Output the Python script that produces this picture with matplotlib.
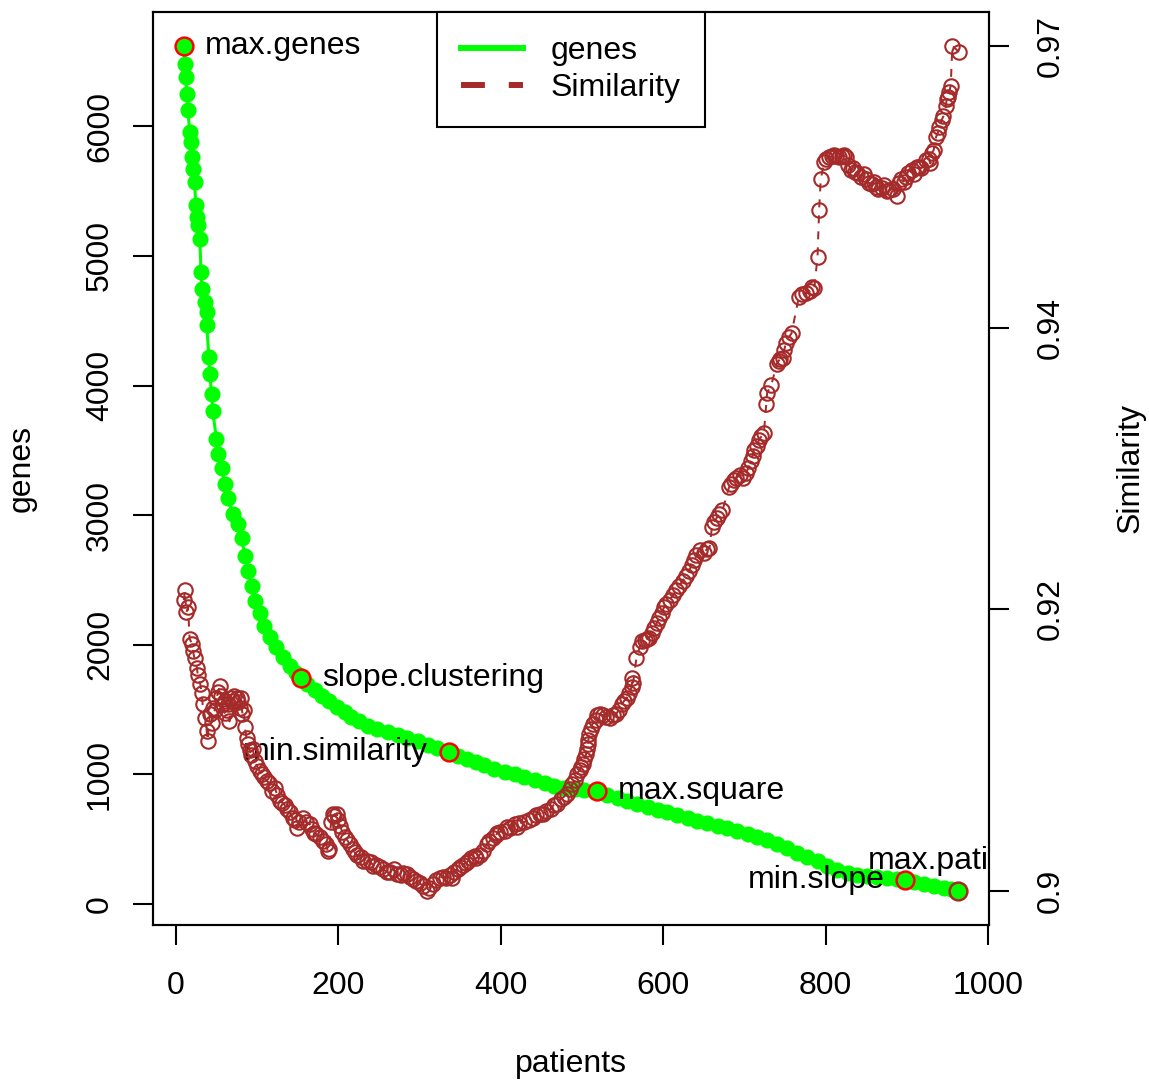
import numpy as np
import matplotlib
matplotlib.use("Agg")
import matplotlib.pyplot as plt
from matplotlib.lines import Line2D

plt.rcParams['font.family'] = ['Liberation Sans', 'DejaVu Sans']
plt.rcParams['font.size'] = 23

# genes kept vs number of patients
gene_patients = [10, 11, 12, 13.5, 15, 17, 18.5, 19.7, 21, 23,
                 24.6, 26, 27, 29.5, 31, 32, 35.7, 38, 38, 40.6,
                 42, 44, 45.5, 50, 51.7, 56.6, 60, 64, 70, 76, 81,
                 85, 89, 93.5, 98, 103, 109, 116, 123, 132, 140,
                 148, 154, 162, 171, 180, 189, 199, 208, 216, 226,
                 236, 248, 261, 273, 285, 298, 310, 322, 336, 347,
                 358, 369, 380, 392, 405, 417, 429, 442, 454, 466,
                 478, 491, 503, 519, 531, 544, 556, 568, 581, 593,
                 605, 617, 630, 642, 654, 667, 679, 691, 704, 716,
                 728, 740, 753, 765, 777, 790, 802, 814, 827, 839,
                 851, 863, 876, 888, 898, 909, 921, 934, 946, 954,
                 963]
gene_counts = [6620, 6477, 6377, 6246, 6123, 5954, 5877, 5762, 5669, 5569,
               5392, 5300, 5238, 5131, 4877, 4746, 4646, 4569, 4469, 4223,
               4085, 3931, 3800, 3585, 3469, 3362, 3238, 3131, 3008, 2931, 2823,
               2685, 2569, 2454, 2338, 2246, 2146, 2062, 1985, 1908, 1838,
               1785, 1746, 1700, 1654, 1608, 1569, 1523, 1485, 1446, 1415,
               1377, 1354, 1331, 1308, 1285, 1262, 1231, 1208, 1177, 1146,
               1123, 1100, 1077, 1046, 1023, 1000, 977, 954, 931, 908,
               892, 885, 877, 869, 838, 815, 792, 769, 746, 723,
               708, 685, 662, 638, 623, 600, 585, 562, 538, 515,
               492, 462, 431, 392, 362, 331, 292, 262, 238, 223,
               215, 208, 200, 192, 185, 169, 154, 138, 123, 115,
               100]

# similarity vs number of patients
sim_patients = [10, 11, 13, 15, 17, 20, 21, 23, 26, 27,
                30, 32, 33, 36, 38, 39, 42, 44, 46, 48,
                50, 52, 54, 56, 58, 60, 61, 63, 64, 66,
                68, 70, 72, 75, 77, 79, 80, 82, 84, 85,
                87, 89, 91, 93, 95, 97, 100, 103, 106, 109,
                112, 115, 119, 122, 125, 128, 131, 134, 137, 140,
                144, 147, 149, 152, 156, 160, 165, 168, 170, 173,
                177, 181, 185, 187, 189, 191, 193, 195, 198, 200,
                202, 205, 208, 211, 214, 218, 220, 223, 228, 231,
                235, 240, 243, 247, 251, 255, 260, 264, 268, 272,
                277, 280, 284, 288, 292, 296, 300, 304, 309, 312,
                316, 320, 325, 329, 333, 337, 340, 343, 347, 350,
                353, 357, 360, 364, 368, 370, 374, 378, 383, 386,
                390, 394, 396, 399, 405, 408, 411, 417, 420, 423,
                429, 435, 440, 444, 448, 452, 456, 462, 465, 469,
                474, 478, 481, 485, 488, 491, 494, 497, 499, 501,
                503, 505, 506, 507, 508, 509, 511, 513, 517, 519,
                522, 526, 530, 534, 538, 542, 545, 549, 552, 555,
                558, 561, 562, 563, 567, 571, 574, 577, 580, 583,
                586, 589, 592, 595, 598, 601, 604, 608, 612, 616,
                620, 624, 628, 632, 635, 638, 641, 645, 650, 654,
                657, 660, 663, 666, 669, 673, 681, 684, 687, 690,
                695, 698, 702, 705, 708, 710, 712, 715, 718, 721,
                724, 727, 728, 733, 740, 742, 744, 747, 749, 751,
                755, 758, 767, 771, 776, 781, 783, 786, 790, 792,
                794, 798, 801, 804, 808, 810, 813, 816, 820, 822,
                825, 828, 831, 834, 836, 839, 843, 847, 850, 853,
                857, 860, 862, 865, 869, 872, 875, 878, 883, 888,
                890, 893, 896, 899, 902, 906, 909, 912, 915, 918,
                923, 927, 929, 931, 933, 936, 938, 940, 943, 945,
                948, 949, 951, 952, 954, 956, 964]
similarity = [0.9241, 0.9249, 0.9231, 0.9235, 0.9209, 0.9205, 0.9199, 0.9193, 0.9185, 0.9179,
              0.9172, 0.9164, 0.9155, 0.9144, 0.9133, 0.9125, 0.9147, 0.9140, 0.9152, 0.9150,
              0.9160, 0.9165, 0.9170, 0.9162, 0.9155, 0.9148, 0.9158, 0.9150, 0.9155, 0.9141,
              0.9160, 0.9158, 0.9162, 0.9160, 0.9157, 0.9152, 0.9160, 0.9147, 0.9150, 0.9136,
              0.9127, 0.9122, 0.9117, 0.9113, 0.9118, 0.9108, 0.9104, 0.9100, 0.9098, 0.9095,
              0.9092, 0.9090, 0.9084, 0.9086, 0.9080, 0.9075, 0.9074, 0.9072, 0.9069, 0.9066,
              0.9061, 0.9060, 0.9053, 0.9058, 0.9061, 0.9058, 0.9056, 0.9052, 0.9049, 0.9048,
              0.9046, 0.9042, 0.9040, 0.9034, 0.9036, 0.9058, 0.9065, 0.9063, 0.9065, 0.9060,
              0.9055, 0.9050, 0.9046, 0.9043, 0.9040, 0.9036, 0.9033, 0.9031, 0.9029, 0.9026,
              0.9026, 0.9025, 0.9022, 0.9023, 0.9021, 0.9019, 0.9017, 0.9017, 0.9019, 0.9015,
              0.9014, 0.9016, 0.9015, 0.9013, 0.9011, 0.9009, 0.9008, 0.9005, 0.9001, 0.9004,
              0.9007, 0.9010, 0.9012, 0.9013, 0.9012, 0.9014, 0.9012, 0.9017, 0.9019, 0.9021,
              0.9023, 0.9024, 0.9026, 0.9028, 0.9030, 0.9028, 0.9031, 0.9034, 0.9040, 0.9042,
              0.9045, 0.9047, 0.9049, 0.9050, 0.9051, 0.9054, 0.9053, 0.9056, 0.9054, 0.9057,
              0.9058, 0.9060, 0.9061, 0.9064, 0.9065, 0.9065, 0.9067, 0.9069, 0.9072, 0.9073,
              0.9077, 0.9079, 0.9081, 0.9085, 0.9089, 0.9093, 0.9098, 0.9101, 0.9103, 0.9106,
              0.9110, 0.9114, 0.9118, 0.9122, 0.9126, 0.9131, 0.9135, 0.9139, 0.9142, 0.9146,
              0.9147, 0.9146, 0.9145, 0.9144, 0.9146, 0.9147, 0.9150, 0.9155, 0.9158, 0.9160,
              0.9164, 0.9169, 0.9177, 0.9173, 0.9193, 0.9202, 0.9207, 0.9208, 0.9209, 0.9210,
              0.9214, 0.9218, 0.9222, 0.9226, 0.9230, 0.9235, 0.9238, 0.9241, 0.9245, 0.9249,
              0.9253, 0.9257, 0.9261, 0.9265, 0.9270, 0.9274, 0.9278, 0.9282, 0.9280, 0.9283,
              0.9284, 0.9301, 0.9305, 0.9309, 0.9312, 0.9315, 0.9334, 0.9337, 0.9340, 0.9342,
              0.9344, 0.9342, 0.9346, 0.9350, 0.9356, 0.9360, 0.9365, 0.9368, 0.9373, 0.9376,
              0.9379, 0.9403, 0.9412, 0.9418, 0.9436, 0.9438, 0.9440, 0.9441, 0.9447, 0.9453,
              0.9458, 0.9461, 0.9491, 0.9493, 0.9494, 0.9496, 0.9499, 0.9498, 0.9524, 0.9563,
              0.9588, 0.9602, 0.9605, 0.9606, 0.9607, 0.9608, 0.9607, 0.9606, 0.9607, 0.9608,
              0.9606, 0.9600, 0.9596, 0.9597, 0.9594, 0.9593, 0.9590, 0.9592, 0.9588, 0.9585,
              0.9584, 0.9586, 0.9582, 0.9580, 0.9581, 0.9583, 0.9578, 0.9579, 0.9580, 0.9574,
              0.9585, 0.9588, 0.9586, 0.9590, 0.9593, 0.9596, 0.9592, 0.9598, 0.9598, 0.9597,
              0.9604, 0.9605, 0.9601, 0.9610, 0.9612, 0.9623, 0.9626, 0.9631, 0.9637, 0.9640,
              0.9648, 0.9654, 0.9656, 0.9660, 0.9665, 0.9698, 0.9693]

# marked points on the genes curve
mark_names = ['max.genes', 'slope.clustering', 'min.similarity',
              'max.square', 'min.slope', 'max.patients']
mark_patients = [10, 154, 336, 519, 898, 963]
mark_genes = [6620, 1746, 1177, 869, 185, 100]
mark_colors = ['red', 'red', 'red', 'red', 'red', 'brown']
mark_pos = ['right', 'right', 'left', 'right', 'left', 'above']

sim_ticklabels = ['0.9', '0.92', '0.94', '0.97']


def r_range(v):
    # R style axis range: data range plus 4% on each side
    lo, hi = min(v), max(v)
    d = (hi - lo) * 0.04
    return lo - d, hi + d


fig = plt.figure(figsize=(11.49, 10.83), dpi=100)
ax = fig.add_axes([153 / 1149, 1 - 925 / 1083, 836 / 1149, 913 / 1083])

ax.plot(gene_patients, gene_counts, color='#00ff00', lw=2.2, marker='o',
        ms=11.6, mec='none', zorder=2)
ax.set_xlim(r_range(gene_patients))
ax.set_ylim(r_range(gene_counts))
ax.set_xticks(range(0, 1001, 200))
ax.set_yticks(range(0, 6001, 1000))

offsets = {'right': ((15, 0), 'left', 'center'),
           'left': ((-15, 0), 'right', 'center'),
           'above': ((0, 22), 'center', 'center')}
for name, px, gy, c, p in zip(mark_names, mark_patients, mark_genes,
                              mark_colors, mark_pos):
    ax.plot(px, gy, 'o', mfc='none', mec=c, ms=12.8, mew=1.8, zorder=3)
    off, ha, va = offsets[p]
    t = ax.annotate(name, (px, gy), xytext=off, textcoords='offset points',
                    ha=ha, va=va, zorder=4)
    t.set_clip_path(ax.patch)

ax.set_xlabel('patients', labelpad=34)
ax.set_ylabel('genes', labelpad=35)

ax2 = ax.twinx()
ax2.plot(sim_patients, similarity, color='brown', lw=1.44,
         linestyle=(0, (4, 4)), marker='o', mfc='none', mec='brown',
         ms=10.4, mew=1.5)
ax2.set_ylim(r_range(similarity))
ax2.set_yticks(np.linspace(min(similarity), max(similarity), 4))
ax2.set_yticklabels(sim_ticklabels)
ax2.set_ylabel('Similarity', labelpad=36)

for a in (ax, ax2):
    for s in a.spines.values():
        s.set_linewidth(1.5)
    a.tick_params(length=14.4, width=1.5)
ax.tick_params(axis='x', pad=19)
ax.tick_params(axis='y', pad=13, labelrotation=90)
ax2.tick_params(axis='y', pad=19, labelrotation=90)
for lab in ax.get_yticklabels():
    lab.set_va('center')
for lab in ax2.get_yticklabels():
    lab.set_va('center')

handles = [Line2D([], [], color='#00ff00', lw=4.3),
           Line2D([], [], color='brown', lw=4.3, linestyle=(0, (4, 4)))]
leg = ax2.legend(handles, ['genes', 'Similarity'], loc='upper center',
                 bbox_to_anchor=(0.5, 1), borderaxespad=0, fancybox=False,
                 edgecolor='black', framealpha=1, handlelength=1.94,
                 handletextpad=0.87, borderpad=0.75, labelspacing=0.22)
leg.get_frame().set_linewidth(1.5)

fig.savefig('out.png', dpi=100)
